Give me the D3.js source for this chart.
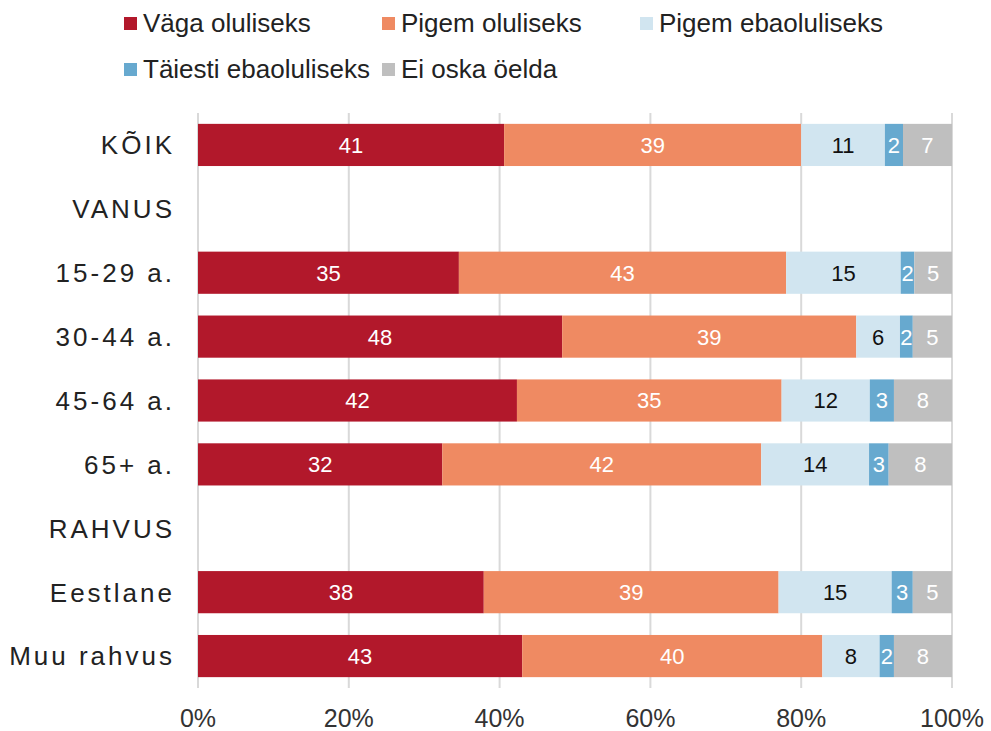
<!DOCTYPE html>
<html>
<head>
<meta charset="utf-8">
<script src="https://cdn.jsdelivr.net/npm/d3@7"></script>
<style>
  body { margin: 0; background: #fff; }
  svg { font-family: "Liberation Sans", Arial, sans-serif; }
</style>
</head>
<body>
<div class="chart"></div>
<script>
// categories (rows), blank series mean a group header row
const categories = ["KÕIK", "VANUS", "15-29 a.", "30-44 a.", "45-64 a.", "65+ a.", "RAHVUS", "Eestlane", "Muu rahvus"];
const seriesNames = ["Väga oluliseks", "Pigem oluliseks", "Pigem ebaoluliseks", "Täiesti ebaoluliseks", "Ei oska öelda"];
const colors = ["#B2182B", "#EF8A62", "#D1E5F0", "#67A9CF", "#BFBFBF"];
const labelColors = ["#fff", "#fff", "#111", "#fff", "#fff"];

// values per series, in row order (null = header row)
const vagaOluliseks     = [40.6, null, 34.6, 48.3, 42.3, 32.4, null, 37.9, 43.0];
const pigemOluliseks    = [39.4, null, 43.4, 39.0, 35.1, 42.3, null, 39.1, 39.8];
const pigemEbaoluliseks = [11.1, null, 15.2, 5.8, 11.7, 14.3, null, 15.0, 7.6];
const taiestiEbaolul    = [2.4, null, 1.8, 1.7, 3.2, 2.6, null, 2.8, 1.9];
const eiOskaOelda       = [6.5, null, 5.0, 5.2, 7.7, 8.4, null, 5.2, 7.7];
const xTicks = [0, 20, 40, 60, 80, 100];

const series = [vagaOluliseks, pigemOluliseks, pigemEbaoluliseks, taiestiEbaolul, eiOskaOelda];

const width = 991, height = 731;
const margin = { top: 113, right: 39, bottom: 43, left: 198 };

const svg = d3.select('.chart').append('svg')
    .attr('width', width)
    .attr('height', height);

const x = d3.scaleLinear()
    .domain([0, 100])
    .range([margin.left, width - margin.right]);

const y = d3.scaleBand()
    .domain(categories)
    .range([margin.top, height - margin.bottom])
    .paddingInner(0.34)
    .paddingOuter(0.17);

// gridlines
svg.append('g')
    .selectAll('line')
    .data(xTicks)
    .join('line')
    .attr('x1', d => x(d))
    .attr('x2', d => x(d))
    .attr('y1', margin.top)
    .attr('y2', height - margin.bottom)
    .attr('stroke', '#d9d9d9')
    .attr('stroke-width', 2);

// x tick labels
svg.append('g')
    .selectAll('text')
    .data(xTicks)
    .join('text')
    .attr('x', d => x(d))
    .attr('y', 727)
    .attr('text-anchor', 'middle')
    .attr('font-size', 25)
    .attr('fill', '#333')
    .text(d => d + '%');

// row labels
svg.append('g')
    .selectAll('text')
    .data(categories)
    .join('text')
    .attr('x', 175)
    .attr('y', d => y(d) + y.bandwidth() / 2)
    .attr('dy', '0.36em')
    .attr('text-anchor', 'end')
    .attr('font-size', 26)
    .attr('letter-spacing', 3)
    .attr('fill', '#222')
    .text(d => d);

// stacked bars
const rows = categories.map((c, i) => {
    let acc = 0;
    return series.map((s, k) => {
        const v = s[i];
        if (v == null) return null;
        const seg = { cat: c, k: k, v: v, x0: acc, x1: acc + v };
        acc += v;
        return seg;
    });
}).flat().filter(d => d);

const bars = svg.append('g');

bars.selectAll('rect')
    .data(rows)
    .join('rect')
    .attr('x', d => x(d.x0))
    .attr('y', d => y(d.cat))
    .attr('width', d => x(d.x1) - x(d.x0))
    .attr('height', y.bandwidth())
    .attr('fill', d => colors[d.k]);

bars.selectAll('text')
    .data(rows)
    .join('text')
    .attr('x', d => (x(d.x0) + x(d.x1)) / 2)
    .attr('y', d => y(d.cat) + y.bandwidth() / 2)
    .attr('dy', '0.36em')
    .attr('text-anchor', 'middle')
    .attr('font-size', 22)
    .attr('fill', d => labelColors[d.k])
    .text(d => Math.round(d.v));

// legend
const legendPos = [[124, 23], [382, 23], [640, 23], [124, 69], [382, 69]];
const legend = svg.append('g')
    .selectAll('g')
    .data(seriesNames)
    .join('g')
    .attr('transform', (d, i) => `translate(${legendPos[i][0]},${legendPos[i][1]})`);

legend.append('rect')
    .attr('x', 0)
    .attr('y', -6)
    .attr('width', 13)
    .attr('height', 13)
    .attr('fill', (d, i) => colors[i]);

legend.append('text')
    .attr('x', 19)
    .attr('y', 0)
    .attr('dy', '0.36em')
    .attr('font-size', 26)
    .attr('fill', '#222')
    .text(d => d);
</script>
</body>
</html>
